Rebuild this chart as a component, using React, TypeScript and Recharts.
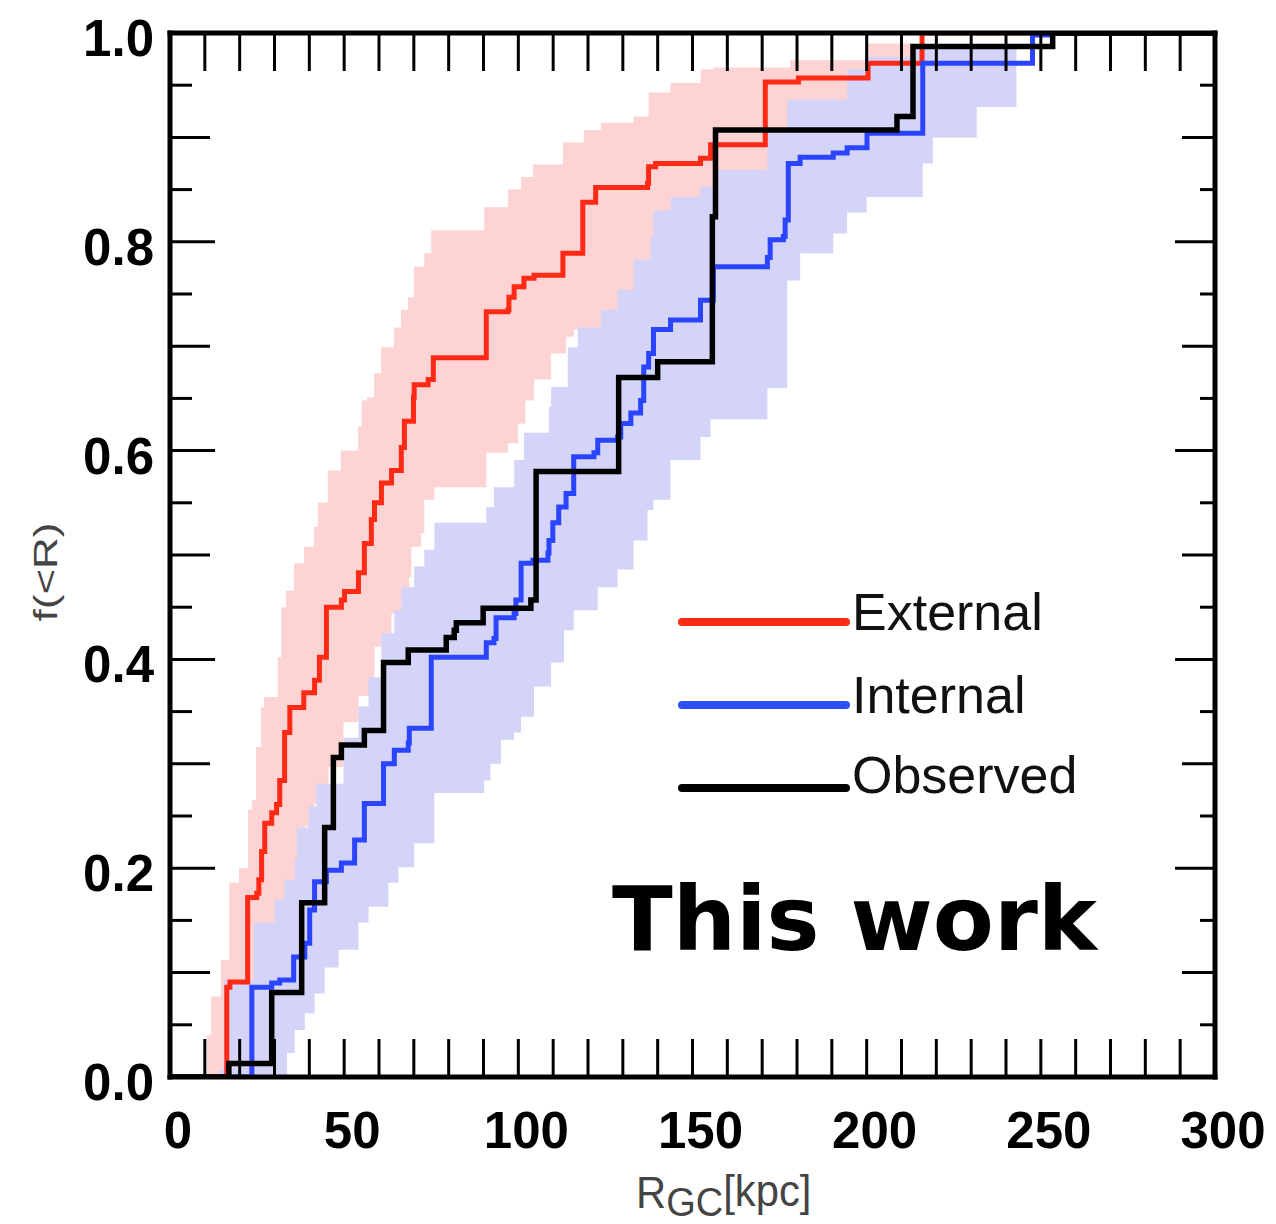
import React from "react";
import { ComposedChart, Line, Area, XAxis, YAxis } from "recharts";

const xTicks = [0, 10, 20, 30, 40, 50, 60, 70, 80, 90, 100, 110, 120, 130, 140, 150, 160, 170, 180, 190, 200, 210, 220, 230, 240, 250, 260, 270, 280, 290, 300];
const yTicks = [0, 0.05, 0.1, 0.15, 0.2, 0.25, 0.3, 0.35, 0.4, 0.45, 0.5, 0.55, 0.6, 0.65, 0.7, 0.75, 0.8, 0.85, 0.9, 0.95, 1.0];

// step events: at R the cumulative fraction jumps to F
const externalR = [16.3, 17.2, 22.3, 24.9, 25.5, 26.3, 27.2, 29.2, 30.6, 31.5, 32.9, 34.4, 38.4, 41.5, 42.9, 44.9, 49.2, 50.1, 54.1, 55.8, 57.8, 58.7, 60.7, 63.6, 66.4, 67.3, 69.9, 70.1, 74.1, 75.6, 90.8, 97.0, 97.3, 98.8, 101.6, 104.5, 112.8, 118.5, 122.2, 137.1, 137.4, 139.4, 152.3, 155.2, 170.9, 180.4, 200.4, 215.9];
const externalF = [0.086, 0.091, 0.172, 0.176, 0.189, 0.216, 0.243, 0.253, 0.261, 0.284, 0.33, 0.354, 0.368, 0.38, 0.402, 0.45, 0.457, 0.465, 0.483, 0.511, 0.534, 0.55, 0.569, 0.581, 0.603, 0.628, 0.651, 0.663, 0.668, 0.689, 0.733, 0.735, 0.747, 0.757, 0.765, 0.768, 0.789, 0.838, 0.852, 0.856, 0.872, 0.875, 0.88, 0.893, 0.953, 0.957, 0.971, 1.0];

const internalR = [23.5, 29.2, 31.5, 35.5, 38.7, 40.1, 41.5, 44.9, 49.2, 53.0, 55.8, 61.3, 64.4, 68.4, 68.7, 75.0, 90.8, 93.0, 93.6, 98.8, 99.3, 100.8, 104.2, 108.5, 108.8, 109.9, 111.6, 113.7, 115.9, 121.7, 122.8, 128.5, 129.4, 132.3, 135.1, 136.0, 137.4, 138.8, 143.7, 152.3, 156.0, 171.5, 172.3, 176.1, 176.6, 177.5, 180.9, 190.4, 194.4, 200.1, 216.1, 247.6, 252.0];
const internalF = [0.086, 0.09, 0.093, 0.115, 0.128, 0.16, 0.187, 0.198, 0.205, 0.227, 0.262, 0.3, 0.313, 0.32, 0.334, 0.402, 0.416, 0.42, 0.44, 0.444, 0.457, 0.492, 0.495, 0.502, 0.514, 0.531, 0.546, 0.559, 0.594, 0.598, 0.61, 0.613, 0.626, 0.636, 0.648, 0.68, 0.693, 0.716, 0.725, 0.744, 0.776, 0.785, 0.802, 0.805, 0.821, 0.875, 0.881, 0.885, 0.89, 0.904, 0.971, 0.998, 1.0];

const observedR = [16.9, 29.2, 37.8, 44.4, 46.9, 49.2, 55.8, 61.3, 68.4, 79.3, 81.6, 82.2, 89.9, 103.6, 105.1, 128.8, 140.0, 155.7, 156.6, 208.7, 213.3, 253.4];
const observedF = [0.013, 0.081, 0.167, 0.239, 0.306, 0.318, 0.332, 0.397, 0.409, 0.421, 0.428, 0.435, 0.449, 0.457, 0.58, 0.67, 0.685, 0.824, 0.907, 0.92, 0.987, 1.0];

// shaded ranges: upper and lower edges
const externalHiR = [10.6, 11.8, 14.6, 17.0, 19.8, 22.4, 23.5, 24.7, 26.1, 27.0, 30.9, 31.9, 33.3, 35.6, 38.5, 41.3, 42.5, 45.3, 49.0, 54.0, 55.0, 56.5, 58.6, 60.6, 64.3, 66.3, 68.3, 70.0, 73.0, 75.0, 90.2, 97.0, 100.8, 104.2, 112.8, 118.8, 123.7, 133.1, 137.4, 143.7, 152.3, 156.0, 178.0, 200.0, 213.5];
const externalHiF = [0.04, 0.077, 0.112, 0.186, 0.2, 0.256, 0.265, 0.316, 0.354, 0.364, 0.402, 0.45, 0.466, 0.492, 0.508, 0.527, 0.55, 0.581, 0.6, 0.623, 0.648, 0.651, 0.674, 0.699, 0.718, 0.735, 0.747, 0.776, 0.789, 0.811, 0.833, 0.85, 0.862, 0.874, 0.895, 0.907, 0.914, 0.92, 0.943, 0.952, 0.965, 0.967, 0.974, 0.99, 0.99];
const externalLoR = [25.0, 29.8, 32.6, 38.7, 41.5, 43.5, 45.5, 49.8, 54.1, 58.7, 63.6, 66.4, 68.7, 69.3, 72.1, 73.0, 75.9, 90.8, 97.0, 99.9, 102.0, 104.5, 109.4, 113.7, 115.9, 123.7, 140.0, 160.0, 180.0, 200.0, 213.5];
const externalLoF = [0.1, 0.148, 0.17, 0.24, 0.262, 0.278, 0.297, 0.34, 0.365, 0.412, 0.444, 0.457, 0.479, 0.508, 0.521, 0.553, 0.565, 0.598, 0.607, 0.626, 0.648, 0.668, 0.693, 0.709, 0.716, 0.72, 0.76, 0.8, 0.85, 0.9, 0.99];

const internalHiR = [14.0, 15.5, 24.0, 30.0, 32.9, 35.8, 36.4, 39.8, 42.0, 49.8, 54.1, 57.0, 60.7, 64.4, 66.4, 70.1, 73.0, 75.9, 90.8, 93.0, 98.8, 101.6, 108.8, 109.4, 114.2, 117.1, 123.7, 128.5, 133.1, 138.0, 138.8, 143.7, 152.3, 156.0, 171.5, 177.2, 194.4, 200.0, 213.5, 243.0];
const internalHiF = [0.007, 0.093, 0.148, 0.17, 0.189, 0.208, 0.239, 0.259, 0.281, 0.325, 0.355, 0.383, 0.425, 0.447, 0.469, 0.489, 0.505, 0.531, 0.546, 0.565, 0.591, 0.617, 0.642, 0.661, 0.699, 0.718, 0.735, 0.754, 0.783, 0.805, 0.83, 0.843, 0.853, 0.869, 0.904, 0.936, 0.965, 0.977, 0.987, 0.987];
const internalLoR = [33.6, 35.8, 38.7, 41.5, 44.4, 48.4, 54.1, 57.0, 62.7, 65.6, 70.1, 75.9, 90.2, 92.0, 95.0, 98.8, 100.8, 104.5, 109.4, 113.1, 115.9, 122.8, 128.5, 133.1, 137.1, 138.8, 143.7, 152.3, 155.2, 171.5, 177.2, 180.9, 190.4, 194.4, 200.0, 216.1, 219.0, 231.6, 243.0];
const internalLoF = [0.023, 0.045, 0.061, 0.08, 0.105, 0.122, 0.148, 0.163, 0.186, 0.201, 0.224, 0.272, 0.284, 0.3, 0.323, 0.33, 0.345, 0.374, 0.397, 0.428, 0.447, 0.469, 0.486, 0.514, 0.543, 0.553, 0.591, 0.613, 0.63, 0.66, 0.763, 0.789, 0.808, 0.828, 0.843, 0.875, 0.9, 0.929, 0.987];

const stepAt = (xs: number[], ys: number[], x: number) => {
  let v = 0;
  for (let i = 0; i < xs.length; i++) {
    if (xs[i] <= x) v = ys[i];
    else break;
  }
  return v;
};

const allR = Array.from(
  new Set([0, 300, ...externalR, ...internalR, ...observedR, ...externalHiR, ...externalLoR, ...internalHiR, ...internalLoR])
).sort((a, b) => a - b);

const data = allR.map((r) => ({
  r,
  external: stepAt(externalR, externalF, r),
  internal: stepAt(internalR, internalF, r),
  observed: stepAt(observedR, observedF, r),
  externalBand: [stepAt(externalLoR, externalLoF, r), stepAt(externalHiR, externalHiF, r)],
  internalBand: [stepAt(internalLoR, internalLoF, r), stepAt(internalHiR, internalHiF, r)],
}));

const tickFont = "'Liberation Sans', Arial, sans-serif";

const BottomTick = (props: any) => {
  const { x, y, payload } = props;
  const v = payload.value;
  return (
    <g>
      <line x1={x} y1={y} x2={x} y2={y - 38} stroke="#000" strokeWidth={3} />
      {v % 50 === 0 && (
        <text x={x + 8} y={y + 71} textAnchor="middle" fontFamily={tickFont} fontWeight="bold" fontSize={51} fill="#000">
          {v}
        </text>
      )}
    </g>
  );
};

const TopTick = (props: any) => {
  const { x, y } = props;
  return <line x1={x} y1={y} x2={x} y2={y + 38} stroke="#000" strokeWidth={3} />;
};

const yLen = (v: number, big: number, mid: number, small: number) => {
  const k = Math.round(v * 100);
  if (k % 20 === 0) return big;
  if (k % 10 === 0) return mid;
  return small;
};

const LeftTick = (props: any) => {
  const { x, y, payload } = props;
  const v = payload.value;
  const len = yLen(v, 45, 40, 22);
  return (
    <g>
      <line x1={x} y1={y} x2={x + len} y2={y} stroke="#000" strokeWidth={3} />
      {Math.round(v * 100) % 20 === 0 && (
        <text x={x - 16} y={y + 23} textAnchor="end" fontFamily={tickFont} fontWeight="bold" fontSize={51} fill="#000">
          {v.toFixed(1)}
        </text>
      )}
    </g>
  );
};

const RightTick = (props: any) => {
  const { x, y, payload } = props;
  const len = yLen(payload.value, 40, 33, 15);
  return <line x1={x} y1={y} x2={x - len} y2={y} stroke="#000" strokeWidth={3} />;
};

const axisLine = { stroke: "#000", strokeWidth: 5, strokeLinecap: "square" as const };

export default function App() {
  return (
    <div style={{ position: "absolute", left: 0, top: 0, width: 1276, height: 1224, background: "#fff" }}>
      <ComposedChart width={1276} height={1224} data={data} margin={{ top: 32, right: 60, bottom: 146, left: 169 }}>
        <Area
          xAxisId="b"
          yAxisId="l"
          dataKey="externalBand"
          type="stepAfter"
          stroke="none"
          fill="#fdd3d3"
          fillOpacity={1}
          isAnimationActive={false}
        />
        <Area
          xAxisId="b"
          yAxisId="l"
          dataKey="internalBand"
          type="stepAfter"
          stroke="none"
          fill="#d4d4f8"
          fillOpacity={1}
          isAnimationActive={false}
        />
        <Line xAxisId="b" yAxisId="l" dataKey="external" type="stepAfter" stroke="#ff2a16" strokeWidth={5} dot={false} isAnimationActive={false} />
        <Line xAxisId="b" yAxisId="l" dataKey="internal" type="stepAfter" stroke="#2a44ff" strokeWidth={5} dot={false} isAnimationActive={false} />
        <Line xAxisId="b" yAxisId="l" dataKey="observed" type="stepAfter" stroke="#000" strokeWidth={5.5} dot={false} isAnimationActive={false} />
        <XAxis
          xAxisId="b"
          dataKey="r"
          type="number"
          domain={[0, 300]}
          allowDataOverflow
          ticks={xTicks}
          interval={0}
          height={1}
          tickSize={0}
          tickMargin={0}
          tickLine={false}
          axisLine={axisLine}
          tick={<BottomTick />}
        />
        <XAxis
          xAxisId="t"
          orientation="top"
          dataKey="r"
          type="number"
          domain={[0, 300]}
          allowDataOverflow
          ticks={xTicks}
          interval={0}
          height={1}
          tickSize={0}
          tickMargin={0}
          tickLine={false}
          axisLine={axisLine}
          tick={<TopTick />}
        />
        <YAxis
          yAxisId="l"
          type="number"
          domain={[0, 1]}
          allowDataOverflow
          ticks={yTicks}
          interval={0}
          width={1}
          tickSize={0}
          tickMargin={0}
          tickLine={false}
          axisLine={axisLine}
          tick={<LeftTick />}
        />
        <YAxis
          yAxisId="r"
          orientation="right"
          type="number"
          domain={[0, 1]}
          allowDataOverflow
          ticks={yTicks}
          interval={0}
          width={1}
          tickSize={0}
          tickMargin={0}
          tickLine={false}
          axisLine={axisLine}
          tick={<RightTick />}
        />
      </ComposedChart>
      <svg width={1276} height={1224} style={{ position: "absolute", left: 0, top: 0, pointerEvents: "none" }}>
        <g fontFamily="'Liberation Sans', Arial, sans-serif" fill="#111" fontSize={52}>
          <line x1={682} y1={622} x2={846} y2={622} stroke="#ff2a16" strokeWidth={8} strokeLinecap="round" />
          <text x={852} y={630}>External</text>
          <line x1={682} y1={705} x2={846} y2={705} stroke="#2a50ff" strokeWidth={8} strokeLinecap="round" />
          <text x={852} y={713}>Internal</text>
          <line x1={682} y1={788} x2={846} y2={788} stroke="#000" strokeWidth={8} strokeLinecap="round" />
          <text x={852} y={793}>Observed</text>
        </g>
        <text x={612} y={950} fontFamily="'DejaVu Sans', Verdana, sans-serif" fontWeight="bold" fontSize={89} fill="#000">
          This work
        </text>
        <text
          transform="translate(57,572) rotate(-90) scale(1,0.75)"
          textAnchor="middle"
          fontFamily="'Liberation Sans', Arial, sans-serif"
          fontSize={44}
          fill="#444"
        >
          f(&lt;R)
        </text>
        <text transform="translate(636,1208) scale(0.95,1)" fontFamily="'Liberation Sans', Arial, sans-serif" fontSize={44} fill="#444">
          R
          <tspan fontSize={40} dy={8}>GC</tspan>
          <tspan dy={-10}>[kpc]</tspan>
        </text>
      </svg>
    </div>
  );
}
